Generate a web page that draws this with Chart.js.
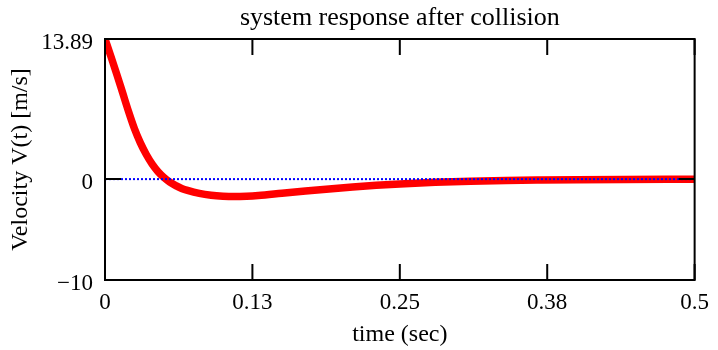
<!DOCTYPE html>
<html>
<head>
<meta charset="utf-8">
<script src="https://cdn.jsdelivr.net/npm/chart.js@4/dist/chart.umd.min.js"></script>
<style>
  html, body { margin: 0; padding: 0; background: #fff; }
  #wrap { width: 718px; height: 350px; }
</style>
</head>
<body>
<div id="wrap"><canvas id="c" width="718" height="350"></canvas></div>
<script>
// Velocity of the body after the collision, sampled in time
const timeSec = [0, 0.005, 0.01, 0.015, 0.02, 0.025, 0.03, 0.035, 0.04, 0.045, 0.05,
  0.055, 0.06, 0.065, 0.07, 0.08, 0.09, 0.1, 0.11, 0.12, 0.13, 0.15, 0.17, 0.19, 0.21,
  0.23, 0.25, 0.28, 0.31, 0.34, 0.37, 0.4, 0.44, 0.5];
const velocity = [13.89, 12.17, 10.39, 8.54, 6.69, 4.99, 3.59, 2.44, 1.49, 0.74, 0.16,
  -0.3, -0.65, -0.92, -1.12, -1.42, -1.6, -1.69, -1.72, -1.69, -1.62, -1.4, -1.18, -0.97, -0.78,
  -0.61, -0.48, -0.32, -0.2, -0.13, -0.09, -0.06, -0.03, -0.01];

// Zero reference line
const zeroTime = [0, 0.5];
const zeroVel = [0, 0];

// Axis ticks
const xTickValues = [0, 0.125, 0.25, 0.375, 0.5];
const xTickLabels = ['0', '0.13', '0.25', '0.38', '0.5'];
const yTickValues = [-10, 0, 13.89];
const yTickLabels = ['\u221210', '0', '13.89'];

const FONT = 'Liberation Serif';

const toPoints = (xs, ys) => xs.map((t, i) => ({ x: t, y: ys[i] }));

// Box around the plot with inward tick marks on all four sides
const framePlugin = {
  id: 'frame',
  afterDatasetsDraw(chart) {
    const { ctx, chartArea: a, scales } = chart;
    const x = scales.x, y = scales.y;
    const len = 16;
    ctx.save();
    ctx.strokeStyle = '#000';
    ctx.lineWidth = 2;
    ctx.strokeRect(a.left, a.top, a.right - a.left, a.bottom - a.top);
    ctx.beginPath();
    xTickValues.forEach(v => {
      const px = x.getPixelForValue(v);
      ctx.moveTo(px, a.bottom); ctx.lineTo(px, a.bottom - len);
      ctx.moveTo(px, a.top); ctx.lineTo(px, a.top + len);
    });
    yTickValues.forEach(v => {
      const py = y.getPixelForValue(v);
      ctx.moveTo(a.left, py); ctx.lineTo(a.left + len, py);
      ctx.moveTo(a.right, py); ctx.lineTo(a.right - len, py);
    });
    ctx.stroke();
    ctx.restore();
  }
};

new Chart(document.getElementById('c'), {
  type: 'line',
  data: {
    datasets: [
      {
        label: 'zero',
        data: toPoints(zeroTime, zeroVel),
        borderColor: '#0000ff',
        borderWidth: 2,
        borderDash: [2, 2],
        pointRadius: 0,
        order: 0
      },
      {
        label: 'V(t)',
        data: toPoints(timeSec, velocity),
        borderColor: '#ff0000',
        borderWidth: 7.5,
        pointRadius: 0,
        cubicInterpolationMode: 'monotone',
        borderCapStyle: 'butt',
        borderJoinStyle: 'round',
        order: 1
      }
    ]
  },
  options: {
    responsive: false,
    animation: false,
    devicePixelRatio: 1,
    layout: { padding: { left: 0, right: 20, top: 0, bottom: 0 } },
    plugins: {
      legend: { display: false },
      tooltip: { enabled: false },
      title: {
        display: true,
        fullSize: false,
        text: 'system response after collision',
        color: '#000',
        font: { family: FONT, size: 26, weight: 'normal', lineHeight: 1.2 },
        padding: { top: 2.4, bottom: 5.4 }
      }
    },
    scales: {
      x: {
        type: 'linear',
        min: 0,
        max: 0.5,
        afterBuildTicks: s => { s.ticks = xTickValues.map(v => ({ value: v })); },
        afterFit: s => { s.height = 70; },
        ticks: {
          autoSkip: false,
          maxRotation: 0,
          padding: 9,
          color: '#000',
          font: { family: FONT, size: 23 },
          callback: (v) => xTickLabels[xTickValues.indexOf(v)]
        },
        grid: { display: false, drawTicks: false },
        border: { display: false },
        title: {
          display: true,
          text: 'time (sec)',
          color: '#000',
          font: { family: FONT, size: 24, lineHeight: 1.2 },
          padding: { top: 0, bottom: 1 }
        }
      },
      y: {
        type: 'linear',
        min: -10,
        max: 13.89,
        afterBuildTicks: s => { s.ticks = yTickValues.map(v => ({ value: v })); },
        afterFit: s => { s.width = 105; },
        ticks: {
          autoSkip: false,
          padding: 12,
          labelOffset: 4,
          color: '#000',
          font: { family: FONT, size: 23 },
          callback: (v) => yTickLabels[yTickValues.indexOf(v)]
        },
        grid: { display: false, drawTicks: false },
        border: { display: false },
        title: {
          display: true,
          text: 'Velocity V(t) [m/s]',
          color: '#000',
          font: { family: FONT, size: 24, lineHeight: 1.2 },
          padding: { top: 6, bottom: 0 }
        }
      }
    }
  },
  plugins: [framePlugin]
});
</script>
</body>
</html>
